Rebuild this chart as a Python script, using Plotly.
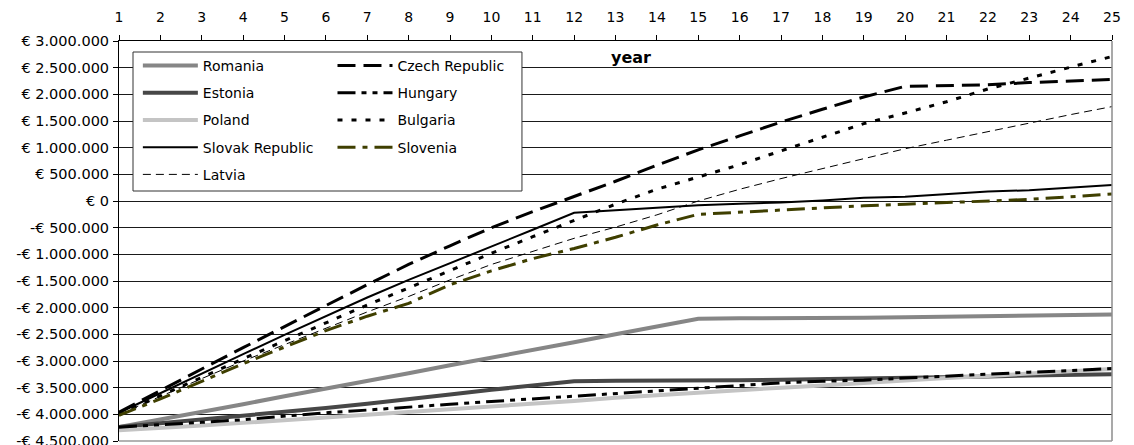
import plotly.graph_objects as go

# Cumulative net result per country (million euro) over a 25-year horizon
years = list(range(1, 26))

romania = [-4.24, -4.10, -3.95, -3.81, -3.66, -3.52, -3.37, -3.23, -3.08, -2.94,
           -2.79, -2.65, -2.50, -2.36, -2.21, -2.20, -2.20, -2.19, -2.19, -2.18,
           -2.17, -2.16, -2.15, -2.14, -2.13]
estonia = [-4.24, -4.17, -4.09, -4.02, -3.95, -3.88, -3.80, -3.72, -3.63, -3.54,
           -3.46, -3.38, -3.37, -3.37, -3.36, -3.36, -3.35, -3.34, -3.33, -3.31,
           -3.30, -3.29, -3.27, -3.26, -3.25]
poland = [-4.30, -4.26, -4.21, -4.16, -4.11, -4.06, -4.01, -3.96, -3.91, -3.86,
          -3.81, -3.75, -3.69, -3.64, -3.59, -3.54, -3.50, -3.46, -3.41, -3.37,
          -3.32, -3.28, -3.24, -3.20, -3.15]
slovak_republic = [-3.97, -3.60, -3.23, -2.87, -2.51, -2.16, -1.81, -1.48, -1.17, -0.85,
                   -0.54, -0.22, -0.17, -0.12, -0.08, -0.05, -0.03, 0.01, 0.06, 0.08,
                   0.13, 0.18, 0.20, 0.25, 0.30]
latvia = [-4.00, -3.66, -3.33, -3.00, -2.69, -2.38, -2.08, -1.79, -1.48, -1.19,
          -0.94, -0.70, -0.49, -0.26, 0.00, 0.22, 0.42, 0.61, 0.80, 0.98,
          1.14, 1.30, 1.47, 1.62, 1.77]
czech_republic = [-3.96, -3.55, -3.15, -2.75, -2.35, -1.96, -1.57, -1.19, -0.84, -0.50,
                  -0.20, 0.08, 0.37, 0.67, 0.96, 1.22, 1.48, 1.72, 1.95, 2.15,
                  2.16, 2.18, 2.22, 2.25, 2.28]
hungary = [-4.24, -4.20, -4.15, -4.10, -4.03, -3.97, -3.92, -3.86, -3.81, -3.76,
           -3.71, -3.66, -3.60, -3.55, -3.50, -3.46, -3.41, -3.38, -3.36, -3.32,
           -3.28, -3.24, -3.21, -3.18, -3.14]
bulgaria = [-4.00, -3.65, -3.30, -2.96, -2.62, -2.28, -1.95, -1.63, -1.30, -0.98,
            -0.67, -0.36, -0.06, 0.22, 0.45, 0.68, 0.94, 1.19, 1.45, 1.65,
            1.86, 2.10, 2.31, 2.51, 2.71]
slovenia = [-4.02, -3.71, -3.38, -3.05, -2.74, -2.43, -2.16, -1.92, -1.57, -1.31,
            -1.08, -0.89, -0.68, -0.45, -0.25, -0.21, -0.17, -0.12, -0.09, -0.06,
            -0.03, -0.01, 0.03, 0.08, 0.13]

MILLION = 1_000_000
y_ticks = [v * 500_000 for v in range(-9, 7)]


def euro(v):
    body = f"{abs(v):,.0f}".replace(",", ".")
    return ("-" if v < 0 else "") + "€ " + body


FONT = "DejaVu Sans"

# name, values, colour, width, dash, legend column
series = [
    ("Romania", romania, "#868686", 4, "solid", "legend"),
    ("Estonia", estonia, "#474747", 4, "solid", "legend"),
    ("Poland", poland, "#c4c4c4", 4, "solid", "legend"),
    ("Slovak Republic", slovak_republic, "#000000", 2, "solid", "legend"),
    ("Latvia", latvia, "#000000", 1, "8px,5px", "legend"),
    ("Czech Republic", czech_republic, "#000000", 3, "18px,8px", "legend2"),
    ("Hungary", hungary, "#000000", 3, "18px,6px,5px,6px,5px,6px", "legend2"),
    ("Bulgaria", bulgaria, "#000000", 3, "5px,9px", "legend2"),
    ("Slovenia", slovenia, "#3f3f00", 3, "18px,7px,5px,7px", "legend2"),
]

fig = go.Figure()
for i, (name, vals, color, width, dash, leg) in enumerate(series):
    fig.add_trace(go.Scatter(
        x=years, y=[v * MILLION for v in vals], name=name, mode="lines",
        line=dict(color=color, width=width, dash=dash),
        legend=leg, legendgroup=f"g{i}",
    ))

legend_common = dict(
    orientation="v", traceorder="grouped", tracegroupgap=6,
    bgcolor="rgba(0,0,0,0)", borderwidth=0, itemwidth=55,
    font=dict(family=FONT, size=14, color="black"),
    xanchor="left", yanchor="top", itemclick=False,
)

fig.update_layout(
    width=1134, height=445,
    margin=dict(l=119, r=22, t=41, b=4, autoexpand=False),
    paper_bgcolor="white", plot_bgcolor="white",
    font=dict(family=FONT, size=14, color="black"),
    showlegend=True,
    legend=dict(x=0.019, y=0.9775, **legend_common),
    legend2=dict(x=0.215, y=0.9775, **legend_common),
    xaxis=dict(
        side="top", range=[1, 25], tickmode="array", tickvals=years,
        showgrid=False, zeroline=False, showline=True, linecolor="black",
        linewidth=1, ticks="outside", ticklen=5, tickcolor="black",
        ticklabelstandoff=7, automargin=False,
        tickfont=dict(family=FONT, size=14),
    ),
    yaxis=dict(
        range=[-4_500_000, 3_000_000], tickmode="array", tickvals=y_ticks,
        ticktext=[euro(v) for v in y_ticks],
        showgrid=True, gridcolor="#1a1a1a", gridwidth=1, zeroline=False,
        showline=True, linecolor="black", linewidth=1,
        ticks="outside", ticklen=5, tickcolor="black",
        ticklabelstandoff=1, ticklabeloverflow="allow", automargin=False,
        tickfont=dict(family=FONT, size=14.5),
    ),
    shapes=[
        # legend frame
        dict(type="rect", xref="paper", yref="paper",
             x0=0.0141, x1=0.4058, y0=0.625, y1=0.9725,
             fillcolor="white", line=dict(color="#333333", width=1),
             layer="above"),
        # right and bottom frame of the plot area
        dict(type="line", xref="paper", yref="paper", x0=1, x1=1, y0=0, y1=1,
             line=dict(color="#8c8c8c", width=1.5), layer="above"),
        dict(type="line", xref="paper", yref="paper", x0=0, x1=1, y0=0, y1=0,
             line=dict(color="#9a9a9a", width=1.5), layer="above"),
    ],
    annotations=[
        dict(text="<b>year</b>", xref="paper", yref="paper", x=0.5156, y=0.96,
             yanchor="middle", showarrow=False,
             font=dict(family=FONT, size=16, color="black")),
    ],
)

fig.write_html("out.html")
